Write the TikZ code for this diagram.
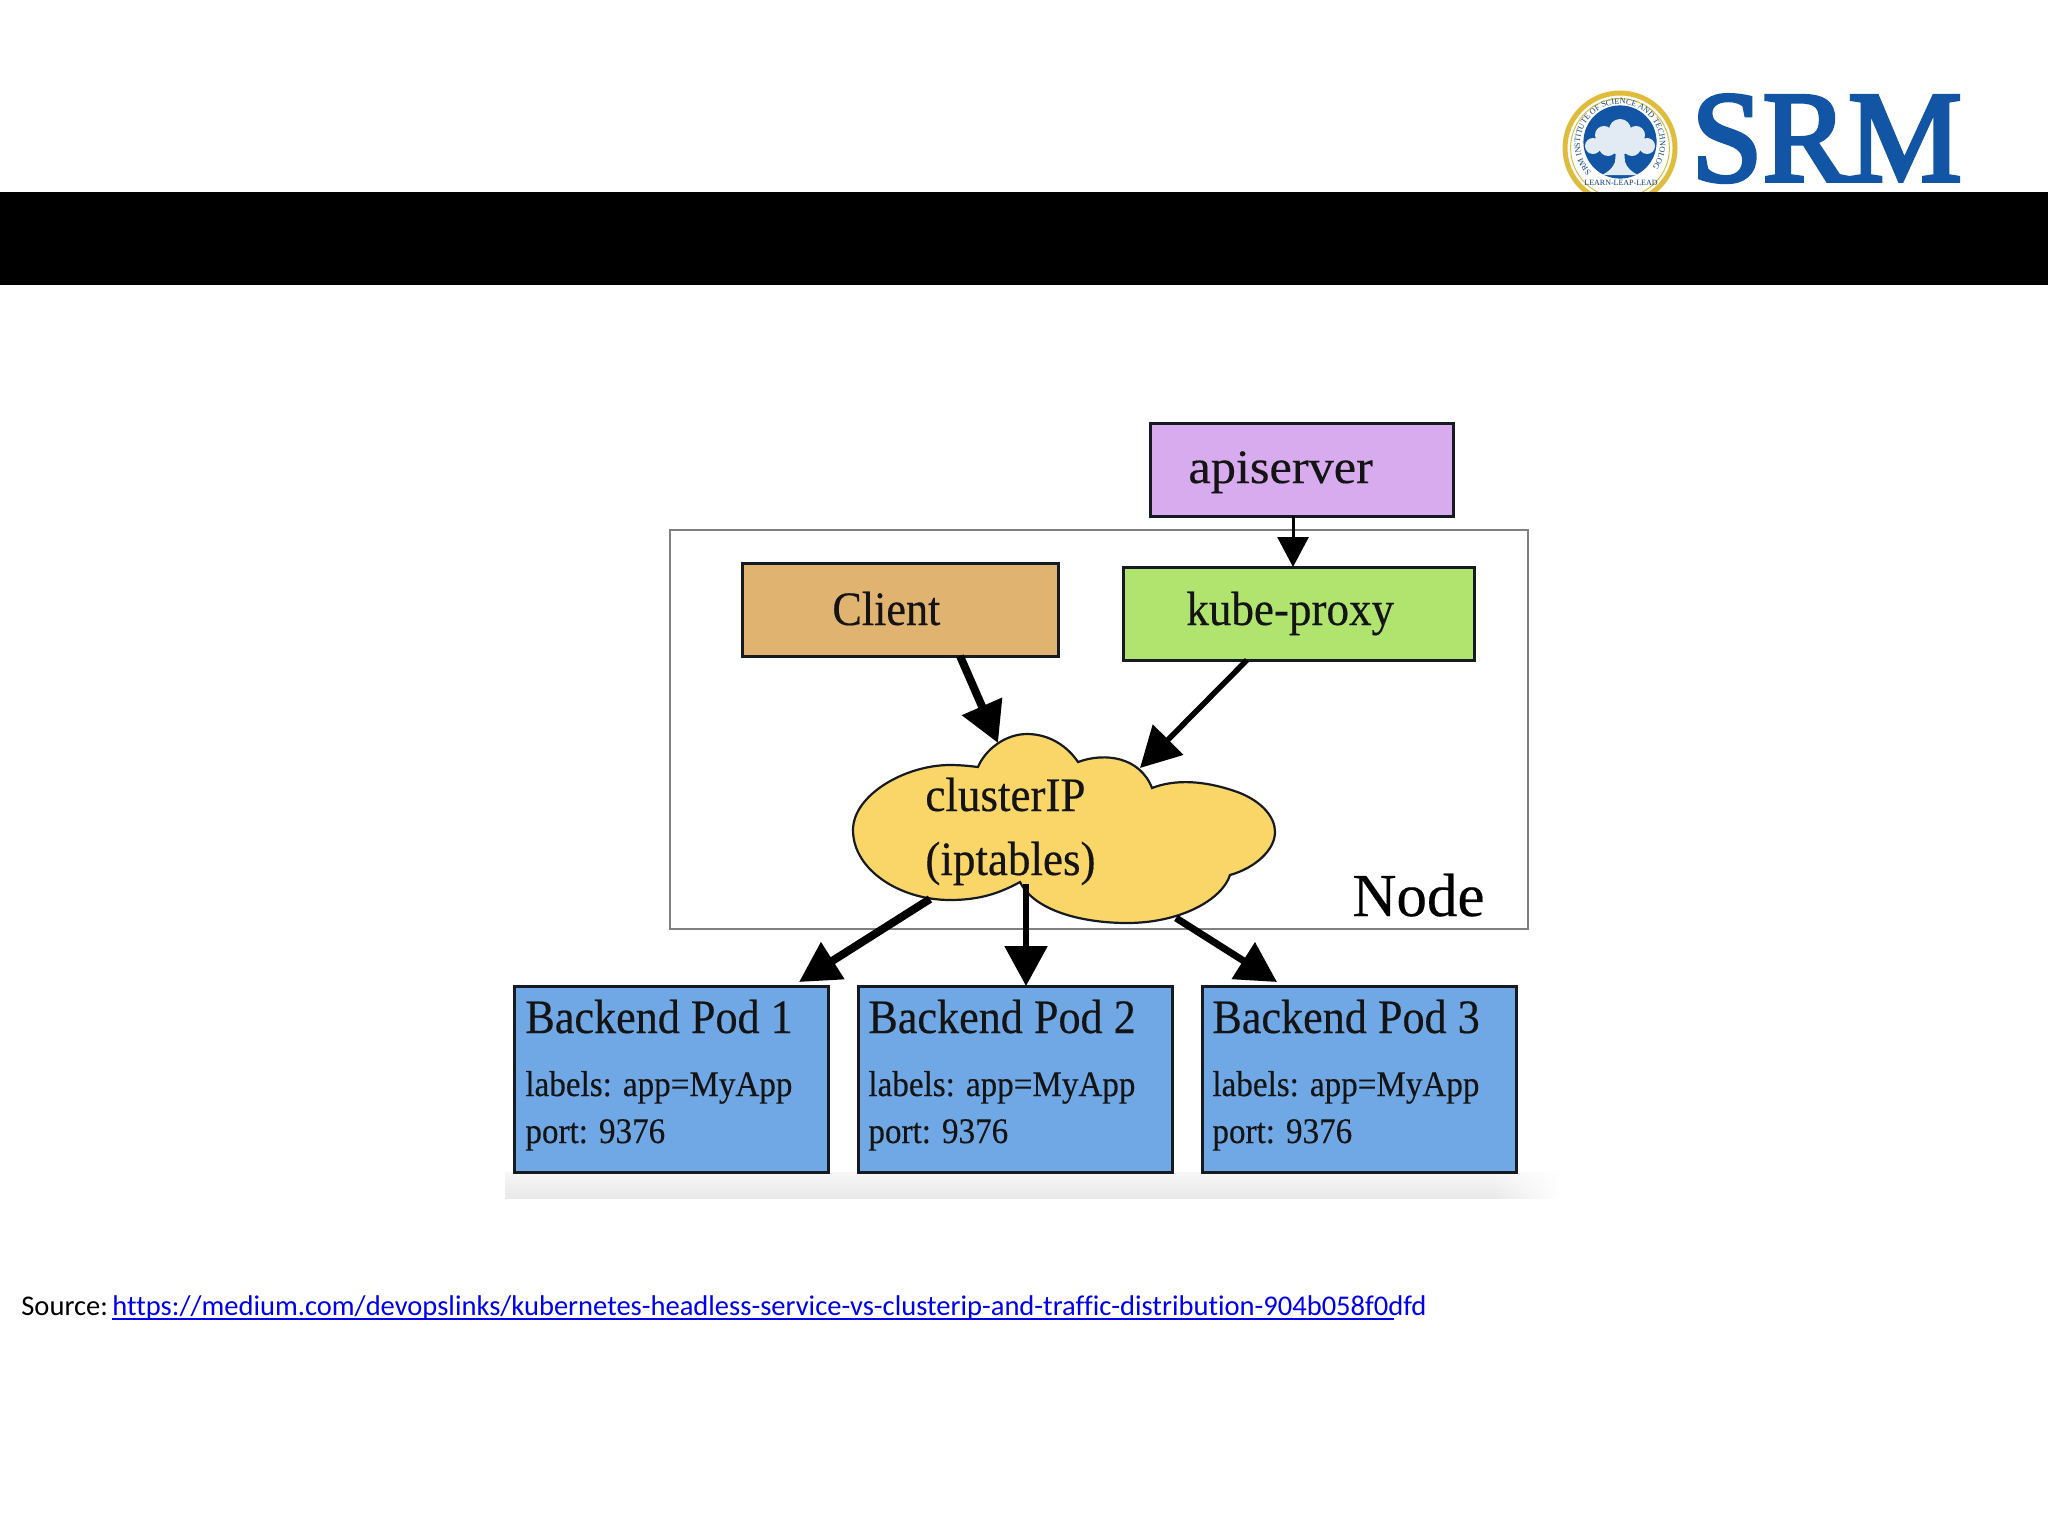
\documentclass[tikz,border=0pt]{standalone}
\usepackage{fontspec}
\usepackage{graphicx}
\usetikzlibrary{arrows.meta,decorations.text,shadings}
\setmainfont{Liberation Serif}
\newfontfamily\figfont[FakeStretch=0.92,FakeBold=0.35]{Liberation Serif}
\newfontfamily\lblfont[FakeStretch=0.92,FakeBold=0.3]{Liberation Serif}
\newfontfamily\nodefont[FakeBold=0.3]{Liberation Serif}
\newfontfamily\plainfont{Liberation Serif}
\newfontfamily\srmfont[FakeStretch=0.985,FakeBold=3]{Liberation Serif}
\newfontfamily\slidefont[Ligatures=NoCommon]{Carlito}
\definecolor{apicol}{HTML}{D8ABEE}
\definecolor{clientcol}{HTML}{E0B470}
\definecolor{kubecol}{HTML}{B0E46E}
\definecolor{cloudcol}{HTML}{F9D667}
\definecolor{podcol}{HTML}{6FA8E4}
\definecolor{edgecol}{HTML}{161A22}
\definecolor{srmblue}{HTML}{1255A5}
\definecolor{goldcol}{HTML}{E0BC3C}
\definecolor{linkcol}{HTML}{0000EE}
\tikzset{
  x=0.5pt,y=-0.5pt,
  boxed/.style={draw=edgecol,line width=1.5pt,inner sep=0pt,outer sep=0pt,minimum height=46.5pt},
  podbox/.style={boxed,fill=podcol,minimum width=157pt,minimum height=93pt},
  biglabel/.style={anchor=base west,inner sep=0pt,font=\figfont\fontsize{24}{24}\selectfont,text=black!92},
  smalllabel/.style={anchor=base west,inner sep=0pt,font=\lblfont\fontsize{18}{18}\selectfont,text=black!92},
  flow/.style={line width=#1,draw=black,-{Triangle[length=20pt,width=21pt]}},
  thinflow/.style={line width=1.5pt,draw=black,-{Triangle[length=15pt,width=15.5pt]}},
  shadowstrip/.style={top color=black!3,bottom color=black!9},
}
\begin{document}
\begin{tikzpicture}
\useasboundingbox (0,0) rectangle (2048,1536);
\fill[white] (0,0) rectangle (2048,1536);

% --- logo ---
\fill[white,draw=goldcol,line width=2.5pt] (1620,148) circle[radius=27.5pt];
\draw[goldcol,line width=0.5pt] (1620,148) circle[radius=24.7pt];
\fill[srmblue] (1620,142) circle[radius=18.3pt];
\path[decorate,decoration={text along path,text align=center,
      text={|\plainfont\fontsize{4.1}{4.1}\selectfont\color{srmblue!80!black}|SRM INSTITUTE OF SCIENCE AND TECHNOLOGY}}]
  ([shift={(215:20pt)}]1620,144) arc[start angle=215,end angle=-35,radius=20pt];
\fill[white!88!srmblue] (1620,130) circle[radius=5.5pt] (1604,135) circle[radius=4.5pt] (1636,135) circle[radius=4.5pt]
  (1593,146) circle[radius=4pt] (1647,146) circle[radius=4pt] (1608,147) circle[radius=4.5pt] (1632,147) circle[radius=4.5pt] (1620,143) circle[radius=6pt];
\fill[white!88!srmblue] (1616,150) -- (1624,150) -- (1625,162) .. controls (1627,168) and (1632,172) .. (1638,175)
  -- (1602,175) .. controls (1608,172) and (1613,168) .. (1615,162) -- cycle;
\node[inner sep=0pt,font=\plainfont\fontsize{4}{4}\selectfont,text=srmblue!70!black] (motto) at (1621,183) {LEARN-LEAP-LEAD};
\node[anchor=base west,inner sep=0pt,text=srmblue,font=\srmfont\fontsize{65}{65}\selectfont] (srm) at (1691,181) {SRM};

% --- title band ---
\fill[black] (0,192) rectangle (2048,285);

% --- picture shadow ---
\shade[shadowstrip] (505,1172) rectangle (1490,1198);
\foreach \i in {0,...,13}{
  \pgfmathsetmacro{\xa}{1490+5*\i}
  \pgfmathsetmacro{\xb}{1495+5*\i}
  \pgfmathsetmacro{\op}{1-(\i+0.5)/14}
  \shade[shadowstrip,opacity=\op] (\xa,1172) rectangle (\xb,1198);
}

% --- Node frame ---
\node[draw=black!50,line width=1.25pt,inner sep=0pt,outer sep=0pt,minimum width=429pt,minimum height=199.5pt] (nodebox) at (1099,729.5) {};
\node[anchor=base west,inner sep=0pt,font=\nodefont\fontsize{30.5}{30.5}\selectfont] (nodelabel) at (1352,916) {Node};

% --- boxes ---
\node[boxed,fill=apicol,minimum width=151.5pt] (api) at (1301.5,469.5) {};
\node[boxed,fill=clientcol,minimum width=158pt] (client) at (900,609.5) {};
\node[boxed,fill=kubecol,minimum width=175.5pt] (kube) at (1298.5,613.5) {};
\node[biglabel] (apilabel) at (1188,483) {\scalebox{1.14}[1]{apiserver}};
\node[biglabel] (clientlabel) at (832,625) {Client};
\node[biglabel] (kubelabel) at (1186,625) {\scalebox{1.02}[1]{kube-proxy}};

% --- cloud ---
\draw[edgecol,fill=cloudcol,line width=1.1pt]
  (978,767) .. controls (985,750) and (1005,734) .. (1027,734)
  .. controls (1050,734) and (1068,747) .. (1078,762)
  .. controls (1105,752) and (1140,757) .. (1152,788)
  .. controls (1175,779) and (1205,780) .. (1240,793)
  .. controls (1262,802) and (1275,817) .. (1275,832)
  .. controls (1275,850) and (1255,868) .. (1230,875)
  .. controls (1222,900) and (1180,923) .. (1127,923)
  .. controls (1085,923) and (1035,912) .. (1020,882)
  .. controls (1000,893) and (980,900) .. (950,900)
  .. controls (900,900) and (853,870) .. (853,830)
  .. controls (853,795) and (905,765) .. (950,765)
  .. controls (960,765) and (970,766) .. (978,767) -- cycle;
\coordinate (cloudinA) at (998,743);
\coordinate (cloudinB) at (1140,768);
\coordinate (cloudoutA) at (930,899);
\coordinate (cloudoutB) at (1026,884);
\coordinate (cloudoutC) at (1176,918);
\node[biglabel] (cloudlabelA) at (925,811) {\scalebox{1.02}[1]{clusterIP}};
\node[biglabel] (cloudlabelB) at (925,875) {\scalebox{1.02}[1]{(iptables)}};

% --- pods ---
\node[podbox] (podA) at (671,1079) {};
\node[podbox] (podB) at (1015,1079) {};
\node[podbox] (podC) at (1359,1079) {};
\node[biglabel] (podAa) at (525,1033) {Backend Pod 1};
\node[smalllabel] (podAb) at (525,1096) {labels: app=MyApp};
\node[smalllabel] (podAc) at (525,1143) {port: 9376};
\node[biglabel] (podBa) at (868,1033) {Backend Pod 2};
\node[smalllabel] (podBb) at (868,1096) {labels: app=MyApp};
\node[smalllabel] (podBc) at (868,1143) {port: 9376};
\node[biglabel] (podCa) at (1212,1033) {Backend Pod 3};
\node[smalllabel] (podCb) at (1212,1096) {labels: app=MyApp};
\node[smalllabel] (podCc) at (1212,1143) {port: 9376};

% --- connectors ---
\draw[thinflow] ([xshift=-4.25pt]api.south) -- ([xshift=-2.75pt]kube.north);
\draw[flow=4pt] ([xshift=30pt]client.south) -- (cloudinA);
\draw[flow=2.75pt] ([xshift=-25.75pt]kube.south) -- (cloudinB);
\draw[flow=4pt] (cloudoutA) -- ([xshift=64pt,yshift=2pt]podA.north);
\draw[flow=2.75pt] (cloudoutB) -- ([xshift=5.5pt]podB.north);
\draw[flow=3.5pt] (cloudoutC) -- ([xshift=-41pt,yshift=2pt]podC.north);

% --- source line ---
\node[anchor=base west,inner sep=0pt,font=\slidefont\fontsize{14.27}{14.27}\selectfont] (source) at (21,1315) {Source:};
\node[anchor=base west,inner sep=0pt,text=linkcol,font=\slidefont\fontsize{14.27}{14.27}\selectfont] (link) at (112,1315)
  {https://medium.com/devopslinks/kubernetes-headless-service-vs-clusterip-and-traffic-distribution-904b058f0dfd};
\coordinate (ulA) at (112,1319);
\coordinate (ulB) at (1394,1319);
\draw[linkcol,line width=0.75pt] (ulA) -- (ulB);
\end{tikzpicture}
\end{document}
